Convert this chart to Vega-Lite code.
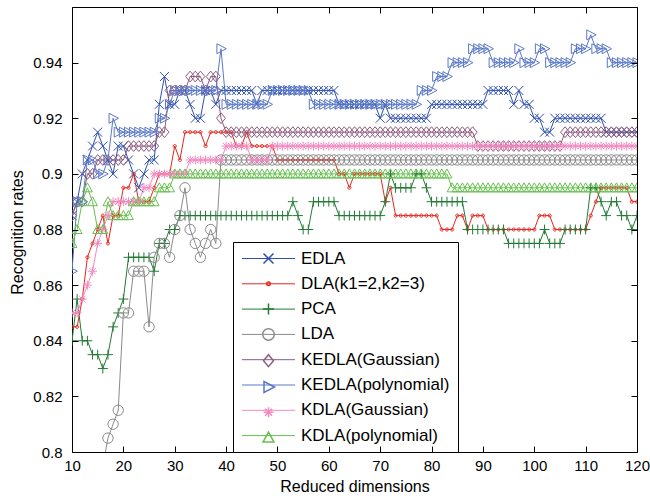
{
"$schema": "https://vega.github.io/schema/vega-lite/v6.json",
"width": 565, "height": 445,
"autosize": {"type": "none"},
"padding": {"left": 72, "top": 7, "right": 13, "bottom": 47},
"background": "white",
"config": {
  "view": {"stroke": "#000", "strokeWidth": 1},
  "font": "Liberation Sans",
  "axis": {"grid": false, "domain": false, "ticks": true, "tickSize": 6, "offset": -6, "tickColor": "#000", "tickWidth": 1, "tickOpacity": 1, "labelColor": "#000", "titleColor": "#000", "labelFont": "Liberation Sans", "titleFont": "Liberation Sans", "labelFontSize": 15, "titleFontSize": 16, "titleFontWeight": "normal", "labelFlush": false}
},
"data": {"values": [
{"d":10,"s1":0.885,"s2":0.845,"s3":0.84,"s5":0.885,"s6":0.865,"s7":0.85,"s8":0.875},
{"d":11,"s1":0.89,"s2":0.845,"s3":0.855,"s5":0.89,"s6":0.89,"s7":0.85,"s8":0.88},
{"d":12,"s1":0.9,"s2":0.855,"s3":0.84,"s5":0.89,"s6":0.89,"s7":0.855,"s8":0.89},
{"d":13,"s1":0.905,"s2":0.87,"s3":0.84,"s5":0.9,"s6":0.905,"s7":0.86,"s8":0.895},
{"d":14,"s1":0.91,"s2":0.875,"s3":0.835,"s5":0.9,"s6":0.905,"s7":0.865,"s8":0.89},
{"d":15,"s1":0.915,"s2":0.88,"s3":0.835,"s5":0.905,"s6":0.9,"s7":0.875,"s8":0.88},
{"d":16,"s1":0.91,"s2":0.885,"s3":0.83,"s4":0.795,"s5":0.905,"s6":0.9,"s7":0.88,"s8":0.88},
{"d":17,"s1":0.905,"s2":0.875,"s3":0.835,"s4":0.805,"s5":0.905,"s6":0.905,"s7":0.885,"s8":0.89},
{"d":18,"s1":0.9,"s2":0.885,"s3":0.845,"s4":0.81,"s5":0.905,"s6":0.92,"s7":0.89,"s8":0.885},
{"d":19,"s1":0.91,"s2":0.885,"s3":0.85,"s4":0.815,"s5":0.905,"s6":0.915,"s7":0.89,"s8":0.885},
{"d":20,"s1":0.91,"s2":0.895,"s3":0.855,"s4":0.85,"s5":0.905,"s6":0.915,"s7":0.89,"s8":0.885},
{"d":21,"s1":0.905,"s2":0.895,"s3":0.87,"s4":0.85,"s5":0.91,"s6":0.915,"s7":0.89,"s8":0.885},
{"d":22,"s1":0.9,"s2":0.9,"s3":0.87,"s4":0.865,"s5":0.91,"s6":0.915,"s7":0.89,"s8":0.89},
{"d":23,"s1":0.895,"s2":0.89,"s3":0.87,"s4":0.865,"s5":0.91,"s6":0.915,"s7":0.89,"s8":0.89},
{"d":24,"s1":0.9,"s2":0.89,"s3":0.87,"s4":0.865,"s5":0.91,"s6":0.915,"s7":0.895,"s8":0.89},
{"d":25,"s1":0.905,"s2":0.89,"s3":0.87,"s4":0.845,"s5":0.91,"s6":0.915,"s7":0.895,"s8":0.89},
{"d":26,"s1":0.905,"s2":0.895,"s3":0.865,"s4":0.87,"s5":0.91,"s6":0.915,"s7":0.9,"s8":0.89},
{"d":27,"s1":0.925,"s2":0.9,"s3":0.875,"s4":0.875,"s5":0.915,"s6":0.92,"s7":0.9,"s8":0.895},
{"d":28,"s1":0.935,"s2":0.9,"s3":0.875,"s4":0.875,"s5":0.915,"s6":0.92,"s7":0.9,"s8":0.895},
{"d":29,"s1":0.925,"s2":0.9,"s3":0.88,"s4":0.87,"s5":0.93,"s6":0.925,"s7":0.9,"s8":0.895},
{"d":30,"s1":0.925,"s2":0.91,"s3":0.88,"s4":0.88,"s5":0.93,"s6":0.93,"s7":0.9,"s8":0.9},
{"d":31,"s1":0.93,"s2":0.905,"s3":0.885,"s4":0.885,"s5":0.93,"s6":0.93,"s7":0.9,"s8":0.9},
{"d":32,"s1":0.93,"s2":0.915,"s3":0.885,"s4":0.895,"s5":0.93,"s6":0.93,"s7":0.9,"s8":0.9},
{"d":33,"s1":0.925,"s2":0.915,"s3":0.885,"s4":0.88,"s5":0.935,"s6":0.93,"s7":0.905,"s8":0.9},
{"d":34,"s1":0.92,"s2":0.915,"s3":0.885,"s4":0.875,"s5":0.935,"s6":0.93,"s7":0.905,"s8":0.9},
{"d":35,"s1":0.92,"s2":0.915,"s3":0.885,"s4":0.87,"s5":0.935,"s6":0.93,"s7":0.905,"s8":0.9},
{"d":36,"s1":0.93,"s2":0.91,"s3":0.885,"s4":0.875,"s5":0.93,"s6":0.93,"s7":0.905,"s8":0.9},
{"d":37,"s1":0.93,"s2":0.915,"s3":0.885,"s4":0.88,"s5":0.935,"s6":0.93,"s7":0.905,"s8":0.9},
{"d":38,"s1":0.925,"s2":0.915,"s3":0.885,"s4":0.875,"s5":0.935,"s6":0.93,"s7":0.905,"s8":0.9},
{"d":39,"s1":0.93,"s2":0.915,"s3":0.885,"s4":0.905,"s5":0.92,"s6":0.945,"s7":0.905,"s8":0.9},
{"d":40,"s1":0.93,"s2":0.915,"s3":0.885,"s4":0.905,"s5":0.915,"s6":0.925,"s7":0.91,"s8":0.9},
{"d":41,"s1":0.93,"s2":0.915,"s3":0.885,"s4":0.905,"s5":0.915,"s6":0.925,"s7":0.91,"s8":0.9},
{"d":42,"s1":0.93,"s2":0.91,"s3":0.885,"s4":0.905,"s5":0.915,"s6":0.925,"s7":0.91,"s8":0.9},
{"d":43,"s1":0.93,"s2":0.91,"s3":0.885,"s4":0.905,"s5":0.915,"s6":0.925,"s7":0.91,"s8":0.9},
{"d":44,"s1":0.93,"s2":0.915,"s3":0.885,"s4":0.905,"s5":0.915,"s6":0.925,"s7":0.91,"s8":0.9},
{"d":45,"s1":0.93,"s2":0.91,"s3":0.885,"s4":0.905,"s5":0.915,"s6":0.925,"s7":0.905,"s8":0.9},
{"d":46,"s1":0.925,"s2":0.91,"s3":0.885,"s4":0.905,"s5":0.915,"s6":0.925,"s7":0.905,"s8":0.9},
{"d":47,"s1":0.93,"s2":0.91,"s3":0.885,"s4":0.905,"s5":0.915,"s6":0.925,"s7":0.905,"s8":0.9},
{"d":48,"s1":0.93,"s2":0.91,"s3":0.885,"s4":0.905,"s5":0.915,"s6":0.925,"s7":0.905,"s8":0.9},
{"d":49,"s1":0.93,"s2":0.91,"s3":0.885,"s4":0.905,"s5":0.915,"s6":0.93,"s7":0.91,"s8":0.9},
{"d":50,"s1":0.93,"s2":0.905,"s3":0.885,"s4":0.905,"s5":0.915,"s6":0.93,"s7":0.91,"s8":0.9},
{"d":51,"s1":0.93,"s2":0.905,"s3":0.885,"s4":0.905,"s5":0.915,"s6":0.93,"s7":0.91,"s8":0.9},
{"d":52,"s1":0.93,"s2":0.905,"s3":0.885,"s4":0.905,"s5":0.915,"s6":0.93,"s7":0.91,"s8":0.9},
{"d":53,"s1":0.93,"s2":0.905,"s3":0.89,"s4":0.905,"s5":0.915,"s6":0.93,"s7":0.91,"s8":0.9},
{"d":54,"s1":0.93,"s2":0.905,"s3":0.885,"s4":0.905,"s5":0.915,"s6":0.93,"s7":0.91,"s8":0.9},
{"d":55,"s1":0.93,"s2":0.905,"s3":0.88,"s4":0.905,"s5":0.915,"s6":0.93,"s7":0.91,"s8":0.9},
{"d":56,"s1":0.93,"s2":0.905,"s3":0.88,"s4":0.905,"s5":0.915,"s6":0.93,"s7":0.91,"s8":0.9},
{"d":57,"s1":0.93,"s2":0.905,"s3":0.89,"s4":0.905,"s5":0.915,"s6":0.925,"s7":0.91,"s8":0.9},
{"d":58,"s1":0.93,"s2":0.905,"s3":0.89,"s4":0.905,"s5":0.915,"s6":0.925,"s7":0.91,"s8":0.9},
{"d":59,"s1":0.93,"s2":0.905,"s3":0.89,"s4":0.905,"s5":0.915,"s6":0.925,"s7":0.91,"s8":0.9},
{"d":60,"s1":0.93,"s2":0.905,"s3":0.89,"s4":0.905,"s5":0.915,"s6":0.925,"s7":0.91,"s8":0.9},
{"d":61,"s1":0.93,"s2":0.905,"s3":0.89,"s4":0.905,"s5":0.915,"s6":0.925,"s7":0.91,"s8":0.9},
{"d":62,"s1":0.925,"s2":0.9,"s3":0.885,"s4":0.905,"s5":0.915,"s6":0.925,"s7":0.91,"s8":0.9},
{"d":63,"s1":0.925,"s2":0.9,"s3":0.885,"s4":0.905,"s5":0.915,"s6":0.925,"s7":0.91,"s8":0.9},
{"d":64,"s1":0.925,"s2":0.895,"s3":0.885,"s4":0.905,"s5":0.915,"s6":0.925,"s7":0.91,"s8":0.9},
{"d":65,"s1":0.925,"s2":0.9,"s3":0.885,"s4":0.905,"s5":0.915,"s6":0.925,"s7":0.91,"s8":0.9},
{"d":66,"s1":0.925,"s2":0.9,"s3":0.885,"s4":0.905,"s5":0.915,"s6":0.925,"s7":0.91,"s8":0.9},
{"d":67,"s1":0.925,"s2":0.9,"s3":0.885,"s4":0.905,"s5":0.915,"s6":0.925,"s7":0.91,"s8":0.9},
{"d":68,"s1":0.925,"s2":0.9,"s3":0.885,"s4":0.905,"s5":0.915,"s6":0.925,"s7":0.91,"s8":0.9},
{"d":69,"s1":0.925,"s2":0.9,"s3":0.885,"s4":0.905,"s5":0.915,"s6":0.925,"s7":0.91,"s8":0.9},
{"d":70,"s1":0.92,"s2":0.9,"s3":0.885,"s4":0.905,"s5":0.915,"s6":0.925,"s7":0.91,"s8":0.9},
{"d":71,"s1":0.925,"s2":0.89,"s3":0.89,"s4":0.905,"s5":0.915,"s6":0.925,"s7":0.91,"s8":0.9},
{"d":72,"s1":0.92,"s2":0.895,"s3":0.9,"s4":0.905,"s5":0.915,"s6":0.925,"s7":0.91,"s8":0.9},
{"d":73,"s1":0.92,"s2":0.885,"s3":0.895,"s4":0.905,"s5":0.915,"s6":0.925,"s7":0.91,"s8":0.9},
{"d":74,"s1":0.92,"s2":0.885,"s3":0.895,"s4":0.905,"s5":0.915,"s6":0.925,"s7":0.91,"s8":0.9},
{"d":75,"s1":0.92,"s2":0.885,"s3":0.895,"s4":0.905,"s5":0.915,"s6":0.925,"s7":0.91,"s8":0.9},
{"d":76,"s1":0.92,"s2":0.885,"s3":0.895,"s4":0.905,"s5":0.915,"s6":0.925,"s7":0.91,"s8":0.9},
{"d":77,"s1":0.92,"s2":0.885,"s3":0.9,"s4":0.905,"s5":0.915,"s6":0.925,"s7":0.91,"s8":0.9},
{"d":78,"s1":0.92,"s2":0.885,"s3":0.9,"s4":0.905,"s5":0.915,"s6":0.93,"s7":0.91,"s8":0.9},
{"d":79,"s1":0.92,"s2":0.885,"s3":0.895,"s4":0.905,"s5":0.915,"s6":0.93,"s7":0.91,"s8":0.9},
{"d":80,"s1":0.925,"s2":0.885,"s3":0.89,"s4":0.905,"s5":0.915,"s6":0.93,"s7":0.91,"s8":0.9},
{"d":81,"s1":0.925,"s2":0.885,"s3":0.89,"s4":0.905,"s5":0.915,"s6":0.935,"s7":0.91,"s8":0.9},
{"d":82,"s1":0.925,"s2":0.88,"s3":0.89,"s4":0.905,"s5":0.915,"s6":0.935,"s7":0.91,"s8":0.9},
{"d":83,"s1":0.925,"s2":0.88,"s3":0.89,"s4":0.905,"s5":0.915,"s6":0.935,"s7":0.91,"s8":0.9},
{"d":84,"s1":0.925,"s2":0.88,"s3":0.89,"s4":0.905,"s5":0.915,"s6":0.94,"s7":0.91,"s8":0.895},
{"d":85,"s1":0.925,"s2":0.885,"s3":0.89,"s4":0.905,"s5":0.915,"s6":0.94,"s7":0.91,"s8":0.895},
{"d":86,"s1":0.925,"s2":0.885,"s3":0.89,"s4":0.905,"s5":0.915,"s6":0.94,"s7":0.91,"s8":0.895},
{"d":87,"s1":0.925,"s2":0.88,"s3":0.88,"s4":0.905,"s5":0.915,"s6":0.94,"s7":0.91,"s8":0.895},
{"d":88,"s1":0.925,"s2":0.885,"s3":0.88,"s4":0.905,"s5":0.915,"s6":0.945,"s7":0.91,"s8":0.895},
{"d":89,"s1":0.925,"s2":0.885,"s3":0.88,"s4":0.905,"s5":0.91,"s6":0.945,"s7":0.91,"s8":0.895},
{"d":90,"s1":0.925,"s2":0.885,"s3":0.88,"s4":0.905,"s5":0.91,"s6":0.945,"s7":0.91,"s8":0.895},
{"d":91,"s1":0.93,"s2":0.88,"s3":0.88,"s4":0.905,"s5":0.91,"s6":0.945,"s7":0.91,"s8":0.895},
{"d":92,"s1":0.93,"s2":0.88,"s3":0.88,"s4":0.905,"s5":0.91,"s6":0.94,"s7":0.91,"s8":0.895},
{"d":93,"s1":0.93,"s2":0.88,"s3":0.88,"s4":0.905,"s5":0.91,"s6":0.94,"s7":0.91,"s8":0.895},
{"d":94,"s1":0.93,"s2":0.88,"s3":0.88,"s4":0.905,"s5":0.91,"s6":0.94,"s7":0.91,"s8":0.895},
{"d":95,"s1":0.93,"s2":0.88,"s3":0.875,"s4":0.905,"s5":0.91,"s6":0.94,"s7":0.91,"s8":0.895},
{"d":96,"s1":0.925,"s2":0.88,"s3":0.875,"s4":0.905,"s5":0.91,"s6":0.94,"s7":0.91,"s8":0.895},
{"d":97,"s1":0.93,"s2":0.88,"s3":0.875,"s4":0.905,"s5":0.91,"s6":0.945,"s7":0.91,"s8":0.895},
{"d":98,"s1":0.925,"s2":0.88,"s3":0.875,"s4":0.905,"s5":0.91,"s6":0.94,"s7":0.91,"s8":0.895},
{"d":99,"s1":0.925,"s2":0.88,"s3":0.875,"s4":0.905,"s5":0.91,"s6":0.94,"s7":0.91,"s8":0.895},
{"d":100,"s1":0.92,"s2":0.88,"s3":0.875,"s4":0.905,"s5":0.91,"s6":0.94,"s7":0.91,"s8":0.895},
{"d":101,"s1":0.92,"s2":0.885,"s3":0.875,"s4":0.905,"s5":0.91,"s6":0.945,"s7":0.91,"s8":0.895},
{"d":102,"s1":0.915,"s2":0.885,"s3":0.88,"s4":0.905,"s5":0.91,"s6":0.945,"s7":0.91,"s8":0.895},
{"d":103,"s1":0.915,"s2":0.885,"s3":0.875,"s4":0.905,"s5":0.91,"s6":0.94,"s7":0.91,"s8":0.895},
{"d":104,"s1":0.92,"s2":0.88,"s3":0.875,"s4":0.905,"s5":0.91,"s6":0.94,"s7":0.91,"s8":0.895},
{"d":105,"s1":0.92,"s2":0.88,"s3":0.875,"s4":0.905,"s5":0.91,"s6":0.94,"s7":0.91,"s8":0.895},
{"d":106,"s1":0.92,"s2":0.88,"s3":0.88,"s4":0.905,"s5":0.915,"s6":0.94,"s7":0.91,"s8":0.895},
{"d":107,"s1":0.92,"s2":0.88,"s3":0.88,"s4":0.905,"s5":0.915,"s6":0.94,"s7":0.91,"s8":0.895},
{"d":108,"s1":0.92,"s2":0.88,"s3":0.88,"s4":0.905,"s5":0.915,"s6":0.945,"s7":0.91,"s8":0.895},
{"d":109,"s1":0.92,"s2":0.88,"s3":0.88,"s4":0.905,"s5":0.915,"s6":0.945,"s7":0.91,"s8":0.895},
{"d":110,"s1":0.92,"s2":0.88,"s3":0.88,"s4":0.905,"s5":0.915,"s6":0.945,"s7":0.91,"s8":0.895},
{"d":111,"s1":0.92,"s2":0.885,"s3":0.895,"s4":0.905,"s5":0.915,"s6":0.95,"s7":0.91,"s8":0.895},
{"d":112,"s1":0.92,"s2":0.89,"s3":0.895,"s4":0.905,"s5":0.915,"s6":0.945,"s7":0.91,"s8":0.895},
{"d":113,"s1":0.92,"s2":0.895,"s3":0.89,"s4":0.905,"s5":0.915,"s6":0.945,"s7":0.91,"s8":0.895},
{"d":114,"s1":0.915,"s2":0.895,"s3":0.885,"s4":0.905,"s5":0.915,"s6":0.945,"s7":0.91,"s8":0.895},
{"d":115,"s1":0.915,"s2":0.895,"s3":0.89,"s4":0.905,"s5":0.915,"s6":0.94,"s7":0.91,"s8":0.895},
{"d":116,"s1":0.915,"s2":0.895,"s3":0.89,"s4":0.905,"s5":0.915,"s6":0.94,"s7":0.91,"s8":0.895},
{"d":117,"s1":0.915,"s2":0.895,"s3":0.885,"s4":0.905,"s5":0.915,"s6":0.94,"s7":0.91,"s8":0.895},
{"d":118,"s1":0.915,"s2":0.895,"s3":0.885,"s4":0.905,"s5":0.915,"s6":0.94,"s7":0.91,"s8":0.895},
{"d":119,"s1":0.915,"s2":0.89,"s3":0.88,"s4":0.905,"s5":0.915,"s6":0.94,"s7":0.91,"s8":0.895},
{"d":120,"s1":0.915,"s2":0.89,"s3":0.885,"s4":0.905,"s5":0.915,"s6":0.94,"s7":0.91,"s8":0.895}
]},
"transform": [
  {"fold": ["s1","s2","s3","s4","s5","s6","s7","s8"], "as": ["s","v"]},
  {"filter": "isValid(datum.v)"}
],
"layer": [
  {
    "mark": {"type": "line", "strokeWidth": 1, "clip": true},
    "encoding": {
      "x": {"field": "d", "type": "quantitative", "scale": {"domain": [10,120], "nice": false, "zero": false},
            "axis": {"orient": "bottom", "values": [10,20,30,40,50,60,70,80,90,100,110,120], "zindex": 2, "title": "Reduced dimensions", "titleY": 45.5, "titleBaseline": "alphabetic", "labelPadding": 6}},
      "y": {"field": "v", "type": "quantitative", "scale": {"domain": [0.8,0.96], "nice": false, "zero": false},
            "axis": {"orient": "left", "values": [0.8,0.82,0.84,0.86,0.88,0.9,0.92,0.94], "zindex": 2, "format": "~g", "title": "Recognition rates", "titleX": -56, "titleY": 225, "titleAngle": -90, "titleBaseline": "alphabetic", "titleAlign": "center", "labelPadding": 10}},
      "stroke": {"field": "s", "type": "nominal",
                "scale": {"range": ["#3050B0","#E8251F","#237A35","#8A8A8A","#8E5C7E","#5A78C8","#F38AC0","#66C04E"]},
                "legend": {"orient": "none", "legendX": 161, "legendY": 235, "title": null, "padding": 8, "zindex": 1,
                           "strokeColor": "#000", "fillColor": "#fff", "labelFontSize": 17, "labelFont": "Liberation Sans", "labelColor": "#000",
                           "labelOffset": 24, "rowPadding": 7.3, "symbolOffset": 19, "labelLimit": 400,
                           "symbolType": "M-5.3,0L5.3,0", "symbolSize": 100, "symbolStrokeWidth": 1, "symbolFillColor": "transparent",
                           "labelExpr": "{'s1':'EDLA','s2':'DLA(k1=2,k2=3)','s3':'PCA','s4':'LDA','s5':'KEDLA(Gaussian)','s6':'KEDLA(polynomial)','s7':'KDLA(Gaussian)','s8':'KDLA(polynomial)'}[datum.label]"}}
    }
  },
  {
    "mark": {"type": "point", "filled": false, "strokeWidth": 1, "size": 81, "opacity": 1, "clip": true},
    "encoding": {
      "x": {"field": "d", "type": "quantitative", "scale": {"domain": [10,120], "nice": false, "zero": false},
            "axis": {"orient": "top", "values": [10,20,30,40,50,60,70,80,90,100,110,120], "zindex": 2, "labels": false, "title": null}},
      "y": {"field": "v", "type": "quantitative", "scale": {"domain": [0.8,0.96], "nice": false, "zero": false},
            "axis": {"orient": "right", "values": [0.8,0.82,0.84,0.86,0.88,0.9,0.92,0.94], "zindex": 2, "labels": false, "title": null}},
      "shape": {"field": "s", "type": "nominal",
                "scale": {"domain": ["s1","s2","s3","s4","s5","s6","s7","s8"],
                          "range": ["M-1,-1L1,1M-1,1L1,-1",
                                    "M-0.35,0A0.35,0.35 0 1,0 0.35,0A0.35,0.35 0 1,0 -0.35,0",
                                    "M-1.1,0L1.1,0M0,-1.1L0,1.1",
                                    "M-1.15,0A1.15,1.15 0 1,0 1.15,0A1.15,1.15 0 1,0 -1.15,0",
                                    "M0,-1.2L1,0L0,1.2L-1,0Z",
                                    "M1.2,0L-0.9,-1.1L-0.9,1.1Z",
                                    "M-1,0L1,0M0,-1L0,1M-0.7,-0.7L0.7,0.7M-0.7,0.7L0.7,-0.7",
                                    "M0,-1.1L1.1,0.9L-1.1,0.9Z"]},
                "legend": {"orient": "none", "legendX": 161, "legendY": 235, "title": null, "padding": 8, "zindex": 2,
                           "labelFontSize": 17, "labelFont": "Liberation Sans", "labelColor": "transparent",
                           "labelOffset": 24, "rowPadding": 7.3, "symbolOffset": 19, "labelLimit": 400,
                           "labelExpr": "' '"}},
      "color": {"field": "s", "type": "nominal",
                "scale": {"domain": ["s1","s2","s3","s4","s5","s6","s7","s8"], "range": ["#3050B0","#E8251F","#237A35","#8A8A8A","#8E5C7E","#5A78C8","#F38AC0","#66C04E"]},
                "legend": {"orient": "none", "legendX": 161, "legendY": 235, "title": null, "padding": 8, "zindex": 2,
                           "labelFontSize": 17, "labelFont": "Liberation Sans", "labelColor": "transparent",
                           "labelOffset": 24, "rowPadding": 7.3, "symbolOffset": 19, "labelLimit": 400,
                           "labelExpr": "' '"}},
      "order": {"field": "s", "type": "nominal"}
    }
  }
],
"resolve": {"axis": {"x": "independent", "y": "independent"}}
}
